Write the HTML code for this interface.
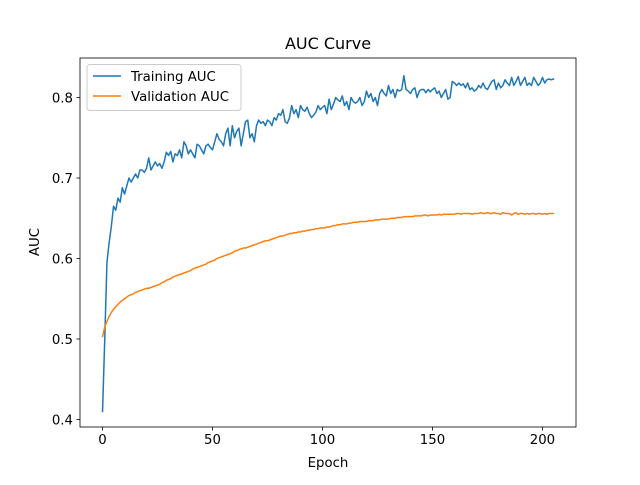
<!DOCTYPE html>
<html><head><meta charset="utf-8"><style>
body{margin:0;background:#fff;width:640px;height:480px;overflow:hidden}
svg text{font-family:"DejaVu Sans","Liberation Sans",sans-serif;fill:#000}
</style></head><body>
<svg id="chart" width="640" height="480" viewBox="0 0 640 480" xmlns="http://www.w3.org/2000/svg"></svg>
<script>
const xTicks=[0,50,100,150,200];
const yTicks=[0.4,0.5,0.6,0.7,0.8];
const yTickLabels=["0.4","0.5","0.6","0.7","0.8"];
const trainAUC=[0.41,0.50,0.595,0.62,0.64,0.665,0.66,0.675,0.67,0.688,
0.68,0.69,0.70,0.695,0.70,0.705,0.70,0.71,0.71,0.707,
0.712,0.725,0.71,0.715,0.72,0.715,0.718,0.712,0.72,0.732,
0.728,0.733,0.72,0.73,0.728,0.735,0.725,0.745,0.74,0.73,
0.735,0.73,0.725,0.742,0.74,0.735,0.73,0.74,0.742,0.738,
0.735,0.745,0.755,0.748,0.745,0.74,0.755,0.762,0.74,0.765,
0.75,0.758,0.762,0.74,0.755,0.77,0.772,0.75,0.755,0.745,
0.765,0.772,0.768,0.77,0.765,0.772,0.77,0.765,0.775,0.772,
0.78,0.778,0.785,0.77,0.768,0.775,0.79,0.78,0.785,0.775,
0.79,0.785,0.783,0.788,0.78,0.775,0.778,0.782,0.79,0.785,
0.788,0.79,0.78,0.798,0.785,0.792,0.80,0.797,0.795,0.802,
0.79,0.795,0.785,0.80,0.795,0.793,0.795,0.80,0.79,0.795,
0.808,0.80,0.805,0.795,0.80,0.79,0.805,0.81,0.805,0.802,
0.815,0.805,0.81,0.80,0.81,0.808,0.81,0.827,0.81,0.808,
0.805,0.81,0.812,0.80,0.808,0.81,0.81,0.806,0.81,0.807,
0.81,0.812,0.805,0.808,0.80,0.805,0.81,0.798,0.80,0.82,
0.818,0.815,0.818,0.815,0.817,0.812,0.818,0.81,0.812,0.808,
0.81,0.815,0.812,0.818,0.812,0.81,0.815,0.82,0.822,0.81,
0.818,0.812,0.815,0.822,0.818,0.815,0.825,0.815,0.82,0.826,
0.815,0.82,0.825,0.815,0.818,0.815,0.825,0.82,0.815,0.818,
0.825,0.818,0.822,0.823,0.822,0.823];
const valAUC=[.503,.515,.522,.528,.533,.537,.540,.543,.546,.548,
.550,.552,.554,.555,.556,.558,.559,.560,.561,.562,
.563,.563,.564,.565,.566,.567,.568,.570,.571,.573,
.574,.575,.577,.578,.579,.580,.581,.582,.583,.584,
.585,.587,.588,.589,.590,.591,.592,.593,.595,.596,
.597,.598,.600,.601,.602,.603,.604,.605,.606,.607,
.609,.610,.611,.612,.613,.613,.614,.615,.616,.617,
.618,.619,.620,.621,.622,.622,.623,.624,.625,.626,
.627,.628,.628,.629,.630,.631,.631,.632,.632,.633,
.633,.634,.634,.635,.635,.636,.636,.637,.637,.638,
.638,.638,.639,.639,.640,.641,.641,.642,.642,.643,
.643,.643,.644,.644,.645,.645,.645,.646,.646,.646,
.646,.647,.647,.647,.648,.648,.648,.649,.649,.649,
.649,.650,.650,.650,.651,.651,.651,.652,.652,.652,
.652,.652,.653,.653,.653,.653,.654,.654,.653,.654,
.654,.654,.654,.655,.654,.655,.655,.655,.655,.655,
.655,.656,.656,.655,.656,.656,.656,.656,.655,.656,
.656,.656,.657,.656,.656,.657,.656,.656,.657,.656,
.656,.655,.657,.656,.656,.656,.654,.656,.657,.655,
.656,.656,.655,.656,.655,.656,.656,.655,.656,.656,
.655,.656,.655,.656,.656,.656];

const L=80,R=576,T=58,B=427;
const xMin=-10.25,xMax=215.25;
const yMin=0.3907,yMax=0.8491;
const xs=v=>L+(v-xMin)/(xMax-xMin)*(R-L);
const ys=v=>B-(v-yMin)/(yMax-yMin)*(B-T);
const svg=document.getElementById('chart');
const NS='http://www.w3.org/2000/svg';
function mk(tag,attrs,parent){const e=document.createElementNS(NS,tag);for(const k in attrs)e.setAttribute(k,attrs[k]);(parent||svg).appendChild(e);return e;}

function line(data,color,name){
  const d=data.map((v,i)=>(i?'L':'M')+xs(i).toFixed(2)+','+ys(v).toFixed(2)).join('');
  const p=mk('path',{d:d,fill:'none',stroke:color,'stroke-width':1.5,'stroke-linejoin':'round','stroke-linecap':'square'});
  
  
}
line(trainAUC,'#1f77b4','training-auc-line');
line(valAUC,'#ff7f0e','validation-auc-line');

const frame=mk('rect',{x:L,y:T,width:R-L,height:B-T,fill:'none',stroke:'#000','stroke-width':0.8});



xTicks.forEach(t=>{
  const x=xs(t);
  mk('line',{x1:x,x2:x,y1:B,y2:B+3.5,stroke:'#000','stroke-width':0.8});
  const tx=mk('text',{x:x,y:B+17,'font-size':'13.3','text-anchor':'middle'});
  tx.textContent=t;
  
  
});
yTicks.forEach((t,i)=>{
  const y=ys(t);
  mk('line',{x1:L-3.5,x2:L,y1:y,y2:y,stroke:'#000','stroke-width':0.8});
  const tx=mk('text',{x:L-7,y:y+4.8,'font-size':'13.3','text-anchor':'end'});
  tx.textContent=yTickLabels[i];
  
  
});

const title=mk('text',{x:(L+R)/2,y:49,'font-size':'16','text-anchor':'middle'});
title.textContent='AUC Curve';


const xl=mk('text',{x:(L+R)/2,y:467,'font-size':'13.3','text-anchor':'middle'});
xl.textContent='Epoch';


const yl=mk('text',{x:0,y:0,'font-size':'13.3','text-anchor':'middle',transform:'translate(39,242) rotate(-90)'});
yl.textContent='AUC';



const lg=mk('g',{});


mk('rect',{x:87,y:64.5,width:154,height:46,rx:3,fill:'#fff','fill-opacity':0.8,stroke:'#ccc','stroke-width':1},lg);
const names=['Training AUC','Validation AUC'],cols=['#1f77b4','#ff7f0e'];
names.forEach((n,i)=>{
  const y=76+i*20;
  const en=mk('g',{},lg);
  
  
  mk('line',{x1:93,x2:121,y1:y,y2:y,stroke:cols[i],'stroke-width':1.5},en);
  const t=mk('text',{x:131,y:y+4.8,'font-size':'13.3'},en);
  t.textContent=n;
});
</script>
</body></html>
